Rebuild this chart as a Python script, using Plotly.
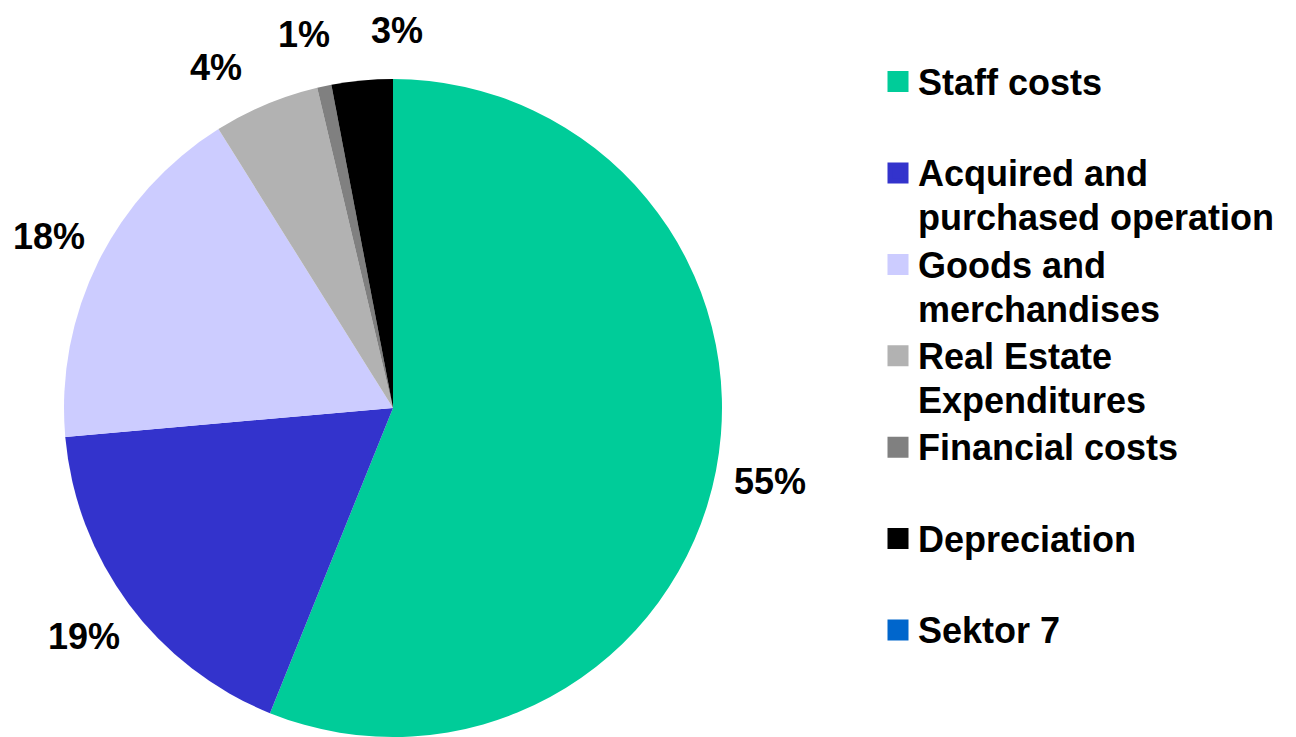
import math
import plotly.graph_objects as go

categories = ["Staff costs", "Acquired and<br>purchased operation", "Goods and<br>merchandises",
              "Real Estate<br>Expenditures", "Financial costs", "Depreciation", "Sektor 7"]
values = [56.1, 17.5, 17.5, 5.2, 0.7, 3.0, 0.0]
pct_labels = ["55%", "19%", "18%", "4%", "1%", "3%", ""]
colors = ["#00CC99", "#3333CC", "#CCCCFF", "#B2B2B2", "#808080", "#000000", "#0066CC"]

FONT = "Liberation Sans, Arial, sans-serif"
LABEL_SIZE = 36
LEGEND_GLYPH = 36
W, H = 1296, 737
top = 45                       # plot-area top margin (legend top aligns here)
plot_h = H - top
pie_top, pie_bottom = 71, 729  # pie box in figure pixels
dom_x = [0, 770 / W]
dom_y = [(H - pie_bottom) / plot_h, (H - pie_top) / plot_h]


def legend_text(name):
    lines = name.split("<br>")
    if len(lines) == 1:
        lines.append(" ")     # pad to two lines so entries are evenly spaced
    return "<br>".join(f'<span style="font-size:{LEGEND_GLYPH}px">{ln}</span>' for ln in lines)


fig = go.Figure()
fig.add_trace(go.Pie(
    labels=categories,
    values=values,
    textinfo="none",
    sort=False,
    direction="clockwise",
    rotation=0,
    marker=dict(colors=colors, line=dict(width=0)),
    domain=dict(x=dom_x, y=dom_y),
    hoverinfo="label+percent",
    showlegend=False,
))

# legend entries (larger square swatches than the pie legend allows)
for name, col in zip(categories, colors):
    fig.add_trace(go.Scatter(
        x=[None], y=[None], mode="markers", name=legend_text(name),
        marker=dict(symbol="square", size=16, color=col, line=dict(color=col, width=5)),
        hoverinfo="skip",
    ))

# percentage labels placed outside the pie at each slice's mid-angle
cx = W * (dom_x[0] + dom_x[1]) / 2
cy = top + plot_h * (1 - (dom_y[0] + dom_y[1]) / 2)
r = min(W * (dom_x[1] - dom_x[0]), plot_h * (dom_y[1] - dom_y[0])) / 2
label_r = r + 55

total = sum(values)
angles = []
acc = 0.0
for v in values:
    angles.append((acc + v / 2) / total * 360.0)
    acc += v

# simple de-overlap: spread neighbouring labels to a minimum angular gap
idx = [i for i, t in enumerate(pct_labels) if t]
ang = {i: angles[i] for i in idx}
min_gap = 14.0
order = sorted(idx, key=lambda i: ang[i])
for _ in range(300):
    for a, b in zip(order[:-1], order[1:]):
        gap = ang[b] - ang[a]
        if gap < min_gap:
            d = (min_gap - gap) / 2
            ang[a] -= d
            ang[b] += d

min_py = 0.62 * LABEL_SIZE     # keep label boxes inside the figure
for i in idx:
    th = math.radians(ang[i])
    px = cx + label_r * math.sin(th)
    py = max(cy - label_r * math.cos(th), min_py)
    fig.add_annotation(
        x=px / W, y=1 - (py - top) / plot_h, xref="paper", yref="paper",
        text=pct_labels[i], showarrow=False, xanchor="center", yanchor="middle",
        font=dict(family=FONT, size=LABEL_SIZE, color="#000000", weight="bold"),
    )

fig.update_layout(
    width=W, height=H,
    margin=dict(l=0, r=0, t=top, b=0, autoexpand=False),
    paper_bgcolor="white",
    plot_bgcolor="white",
    font=dict(family=FONT, color="#000000"),
    xaxis=dict(visible=False),
    yaxis=dict(visible=False),
    legend=dict(
        x=870 / W, xanchor="left",
        y=1, yanchor="top",
        valign="top",
        font=dict(family=FONT, size=34, color="#000000", weight="bold"),
        bgcolor="rgba(0,0,0,0)",
        tracegroupgap=0,
        itemclick=False, itemdoubleclick=False,
    ),
    showlegend=True,
)

fig.write_html("out.html")
